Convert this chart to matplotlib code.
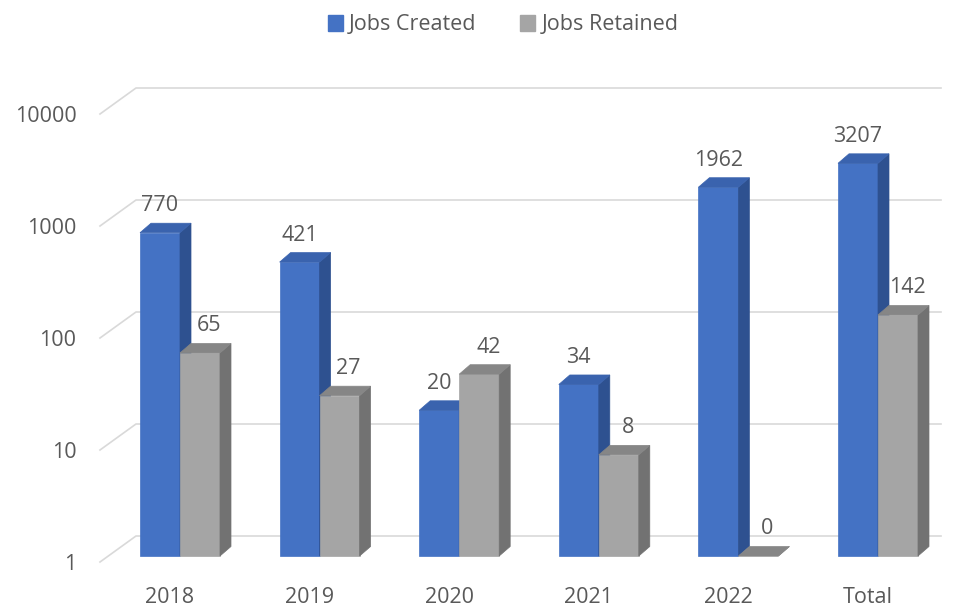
import matplotlib.pyplot as plt
from matplotlib.patches import Polygon, Patch
from matplotlib.lines import Line2D
from matplotlib.transforms import IdentityTransform

categories = ['2018', '2019', '2020', '2021', '2022', 'Total']
jobs_created = [770, 421, 20, 34, 1962, 3207]
jobs_retained = [65, 27, 42, 8, 0, 142]
y_ticks = [1, 10, 100, 1000, 10000]

plt.rcParams['font.family'] = ['Open Sans', 'DejaVu Sans']
text_color = '#595959'
fs = 15.5

fig = plt.figure(figsize=(9.59, 6.07), dpi=100)
ax = fig.add_axes([100 / 959, 45 / 607, 805 / 959, 448 / 607])
ax.set_yscale('log')
ax.set_ylim(1, 10000)
ax.set_xlim((100 - 170) / 139.6, (905 - 170) / 139.6)
for s in ax.spines.values():
    s.set_visible(False)
ax.set_xticks(range(len(categories)), categories)
ax.set_yticks(y_ticks, [str(t) for t in y_ticks])
ax.minorticks_off()
ax.tick_params(length=0, labelsize=fs, labelcolor=text_color)
ax.tick_params(axis='x', pad=18)
ax.tick_params(axis='y', pad=17)


def px(x, y):
    return ax.transData.transform((x, y))


# back wall grid lines with the diagonal "floor" edge
wall_dx, wall_dy = 36, 26
x_left = ax.get_xlim()[0]
for t in y_ticks:
    fx, fy = px(x_left, t)
    ax.add_line(Line2D([fx, fx + wall_dx, 941], [fy, fy + wall_dy, fy + wall_dy],
                       transform=IdentityTransform(), color='#D9D9D9', lw=1.2,
                       clip_on=False, zorder=1))

bar_w = 0.2865
shift_x, shift_y = 10, 6
dx, dy = 11, 9.5


def draw_bar(xl, value, colors, label_dx):
    v = max(value, 1)
    x0, y0 = px(xl, 1)
    x1, y1 = px(xl + bar_w, v)
    x0 += shift_x; x1 += shift_x; y0 += shift_y; y1 += shift_y
    front, side, top = colors
    faces = [
        ([(x0, y0), (x1, y0), (x1, y1), (x0, y1)], front),
        ([(x1, y0), (x1 + dx, y0 + dy), (x1 + dx, y1 + dy), (x1, y1)], side),
        ([(x0, y1), (x1, y1), (x1 + dx, y1 + dy), (x0 + dx, y1 + dy)], top),
    ]
    for verts, c in faces:
        ax.add_patch(Polygon(verts, closed=True, facecolor=c, edgecolor=c, lw=0.5,
                             transform=IdentityTransform(), clip_on=False, zorder=2))
    ax.annotate(str(value), xy=(xl + bar_w / 2, v), xycoords='data',
                xytext=(shift_x + label_dx, shift_y + 27), textcoords='offset pixels',
                ha='center', va='center', fontsize=fs, color=text_color, zorder=3)


blue = ('#4472C4', '#2E5190', '#3A63AE')
gray = ('#A5A5A5', '#727272', '#868686')
for i in range(len(categories)):
    draw_bar(i - bar_w, jobs_created[i], blue, 0)
    draw_bar(i, jobs_retained[i], gray, 9)

handles = [Patch(color=blue[0]), Patch(color=gray[0])]
fig.legend(handles, ['Jobs Created', 'Jobs Retained'], loc='center',
           bbox_to_anchor=(0.5245, 1 - 25 / 607), ncol=2, frameon=False,
           fontsize=fs, handlelength=0.7, handleheight=0.7, handletextpad=0.3,
           columnspacing=2.0, labelcolor=text_color)

fig.savefig('out.png', dpi=100)
